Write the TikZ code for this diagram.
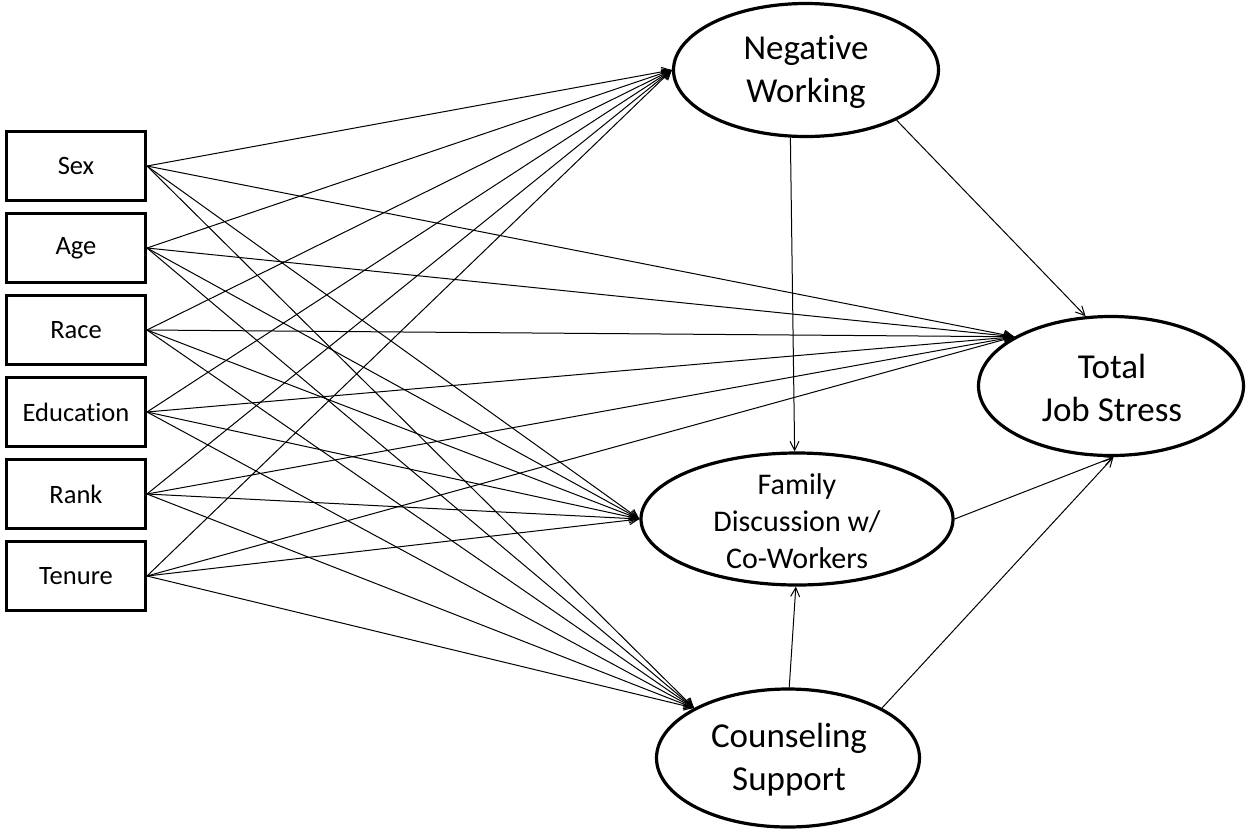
\documentclass[tikz,border=0pt]{standalone}
\usepackage{fontspec}
\setmainfont{Carlito}[Ligatures={NoCommon}]
\usetikzlibrary{arrows.meta,shapes.geometric}
\tikzset{
  varbox/.style={draw,line width=3pt,minimum width=139pt,minimum height=69pt,inner sep=0pt,font=\fontsize{26.5}{30}\selectfont},
  latent/.style={draw,ellipse,line width=3.2pt,inner sep=0pt},
  bigtxt/.style={align=center,font=\fontsize{35}{43}\selectfont},
  midtxt/.style={align=center,font=\fontsize{30}{37}\selectfont},
  path/.style={line width=1pt,-{Straight Barb[length=9pt,width=9pt]}},
}
\begin{document}
\begin{tikzpicture}[x=1pt,y=-1pt]
\useasboundingbox (0,0) rectangle (1248,831);
% observed variables
\node[varbox] (sex) at (76,166) {Sex};
\node[varbox] (age) at (76,248) {Age};
\node[varbox] (race) at (76,330) {Race};
\node[varbox] (edu) at (76,412) {Education};
\node[varbox] (rank) at (76,494) {Rank};
\node[varbox] (ten) at (76,576) {Tenure};
% latent variables
\node[latent,minimum width=265pt,minimum height=133pt] (nw) at (806,70) {};
\node[bigtxt] (nwt) at (806,72) {Negative\\Working};
\node[latent,minimum width=265pt,minimum height=139pt] (tjs) at (1111,386) {};
\node[bigtxt] (tjst) at (1112,388) {Total\\Job Stress};
\node[latent,minimum width=312pt,minimum height=132pt] (fd) at (797,519) {};
\node[midtxt] (fdt) at (797,521) {Family\\Discussion w/\\Co-Workers};
\node[latent,minimum width=263pt,minimum height=138pt] (cs) at (788,758) {};
\node[bigtxt] (cst) at (789,760) {Counseling\\Support};
% paths from observed variables
\foreach \v in {sex,age,race,edu,rank,ten}{
  \draw[path] (\v.east) -- (nw.west);
  \draw[path] (\v.east) -- (tjs.153);
  \draw[path] (\v.east) -- (fd.west);
  \draw[path] (\v.east) -- (cs.152);
}
% structural paths
\draw[path] (nw.-103) -- (fd.92);
\draw[path] (nw.-29) -- (tjs.110);
\draw[path] (cs.89) -- (fd.-91);
\draw[path] (cs.28) -- (tjs.-88);
\draw[path] (fd.east) -- (tjs.-88);
\end{tikzpicture}
\end{document}
